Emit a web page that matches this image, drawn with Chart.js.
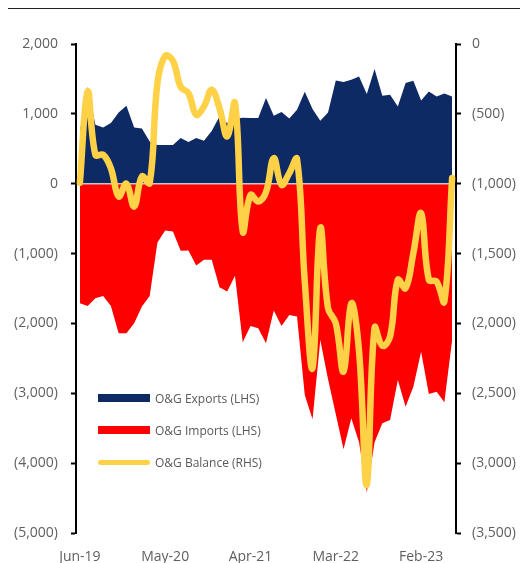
<!DOCTYPE html>
<html>
<head>
<meta charset="utf-8">
<script src="https://cdn.jsdelivr.net/npm/chart.js@4.4.0/dist/chart.umd.min.js"></script>
<style>
  body { margin: 0; background: #fff; font-family: "Open Sans", sans-serif; }
  #wrap { position: relative; width: 520px; height: 563px; }
  #topRule { position: absolute; left: 8px; right: 0; top: 8px; border-top: 1px solid #222; }
  #legend { position: absolute; left: 98px; top: 388px; }
  .item { position: relative; height: 32px; width: 260px; }
  .item span.sw { position: absolute; left: 0; width: 52px; }
  .item span.tx { position: absolute; left: 57px; top: 2px; font-size: 12px; color: #595959; white-space: nowrap; }
</style>
</head>
<body>
<div id="wrap">
  <canvas id="chart" width="520" height="563"></canvas>
  <div id="topRule"></div>
  <div id="legend"></div>
</div>
<script>
// monthly, Jun-19 .. Jun-23
const months = [
  "Jun-19","Jul-19","Aug-19","Sep-19","Oct-19","Nov-19","Dec-19",
  "Jan-20","Feb-20","Mar-20","Apr-20","May-20","Jun-20","Jul-20","Aug-20","Sep-20","Oct-20","Nov-20","Dec-20",
  "Jan-21","Feb-21","Mar-21","Apr-21","May-21","Jun-21","Jul-21","Aug-21","Sep-21","Oct-21","Nov-21","Dec-21",
  "Jan-22","Feb-22","Mar-22","Apr-22","May-22","Jun-22","Jul-22","Aug-22","Sep-22","Oct-22","Nov-22","Dec-22",
  "Jan-23","Feb-23","Mar-23","Apr-23","May-23","Jun-23"
];
const shownLabels = ["Jun-19", "May-20", "Apr-21", "Mar-22", "Feb-23"];

const exportsLHS = [750,1384,845,805,870,1020,1116,805,791,605,553,553,553,653,596,653,615,756,963,870,930,944,941,941,1226,973,1026,935,1059,1317,1069,901,1020,1479,1455,1489,1536,1283,1642,1259,1274,1106,1441,1474,1192,1321,1249,1292,1249];
const importsLHS = [-1711,-1749,-1639,-1606,-1749,-2141,-2141,-1997,-1759,-1606,-842,-670,-684,-961,-957,-1171,-1090,-1090,-1482,-1544,-1319,-2270,-2036,-2069,-2284,-1816,-2036,-1878,-1902,-3024,-3370,-2236,-2800,-3300,-3800,-3358,-3700,-4420,-3700,-3430,-3382,-2809,-3192,-2905,-2404,-3010,-2977,-3129,-2236];
const balanceRHS = [-993,-340,-793,-793,-890,-1091,-1000,-1163,-948,-996,-280,-85,-120,-308,-351,-506,-447,-327,-459,-662,-423,-1342,-1080,-1127,-1060,-817,-1008,-924,-824,-1700,-2320,-1318,-1891,-1999,-2345,-1855,-2200,-3157,-2030,-2160,-2094,-1688,-1748,-1497,-1211,-1688,-1700,-1844,-960];

const navy = "#0e2a65";
const red = "#ff0000";
const yellow = "#ffd147";
const grey = "#5f5f5f";

function fmt(v) {
    const s = Math.abs(v).toLocaleString("en-US");
    return v < 0 ? "(" + s + ")" : s;
}

// thin grey rule at zero, drawn under the balance line
const zeroLine = {
    id: "zeroLine",
    beforeDatasetDraw(chart, args) {
        if (args.index !== 2) return;
        const y = chart.scales.y.getPixelForValue(0);
        const x0 = chart.scales.x.getPixelForValue(0);
        const x1 = chart.scales.x.getPixelForValue(months.length - 1);
        const ctx = chart.ctx;
        ctx.save();
        ctx.strokeStyle = "#c8c8c8";
        ctx.lineWidth = 1.5;
        ctx.beginPath();
        ctx.moveTo(x0, y);
        ctx.lineTo(x1, y);
        ctx.stroke();
        ctx.restore();
    }
};

const datasets = [
    {
        label: "O&G Exports (LHS)",
        data: exportsLHS,
        yAxisID: "y",
        backgroundColor: navy,
        borderWidth: 0,
        pointRadius: 0,
        fill: "origin",
        tension: 0,
        order: 1
    },
    {
        label: "O&G Imports (LHS)",
        data: importsLHS,
        yAxisID: "y",
        backgroundColor: red,
        borderWidth: 0,
        pointRadius: 0,
        fill: "origin",
        tension: 0,
        order: 2
    },
    {
        label: "O&G Balance (RHS)",
        data: balanceRHS,
        yAxisID: "y2",
        borderColor: yellow,
        borderWidth: 6.5,
        borderCapStyle: "round",
        borderJoinStyle: "round",
        pointRadius: 0,
        fill: false,
        tension: 0.4,
        order: 0
    }
];

new Chart(document.getElementById("chart"), {
    type: "line",
    data: { labels: months, datasets: datasets },
    plugins: [zeroLine],
    options: {
        responsive: false,
        animation: false,
        layout: { padding: { top: 44, left: 0, right: 0, bottom: 0 } },
        plugins: { legend: { display: false }, tooltip: { enabled: false } },
        scales: {
            x: {
                type: "category",
                offset: true,
                grid: { display: false, drawTicks: false },
                border: { display: false },
                ticks: {
                    autoSkip: false,
                    maxRotation: 0,
                    padding: 16,
                    color: grey,
                    font: { family: "Open Sans", size: 14 },
                    callback: function (v, i) {
                        const lab = months[i];
                        return shownLabels.includes(lab) ? lab : "";
                    }
                },
                afterFit: function (s) { s.height = 30; }
            },
            y: {
                position: "left",
                min: -5000,
                max: 2000,
                grid: { drawOnChartArea: false, tickColor: "#000", tickLength: 5, tickWidth: 2 },
                border: { color: "#000", width: 2 },
                ticks: {
                    stepSize: 1000,
                    padding: 13,
                    color: grey,
                    font: { family: "Open Sans", size: 14 },
                    callback: fmt
                },
                afterFit: function (s) { s.width = 76; }
            },
            y2: {
                position: "right",
                min: -3500,
                max: 0,
                grid: { drawOnChartArea: false, tickColor: "#000", tickLength: 5, tickWidth: 2 },
                border: { color: "#000", width: 2 },
                ticks: {
                    stepSize: 500,
                    padding: 11,
                    color: grey,
                    font: { family: "Open Sans", size: 14 },
                    callback: fmt
                },
                afterFit: function (s) { s.width = 64; }
            }
        }
    }
});

// legend, inside the plot at lower left
const legend = document.getElementById("legend");
const swatches = [
    { h: 8, r: 0, c: navy },
    { h: 8, r: 0, c: red },
    { h: 5, r: 3, c: yellow }
];
datasets.forEach(function (d, i) {
    const row = document.createElement("div");
    row.className = "item";
    const sw = document.createElement("span");
    sw.className = "sw";
    sw.style.height = swatches[i].h + "px";
    sw.style.top = (10 - swatches[i].h / 2) + "px";
    sw.style.background = swatches[i].c;
    sw.style.borderRadius = swatches[i].r + "px";
    const tx = document.createElement("span");
    tx.className = "tx";
    tx.textContent = d.label;
    row.appendChild(sw);
    row.appendChild(tx);
    legend.appendChild(row);
});
</script>
</body>
</html>
